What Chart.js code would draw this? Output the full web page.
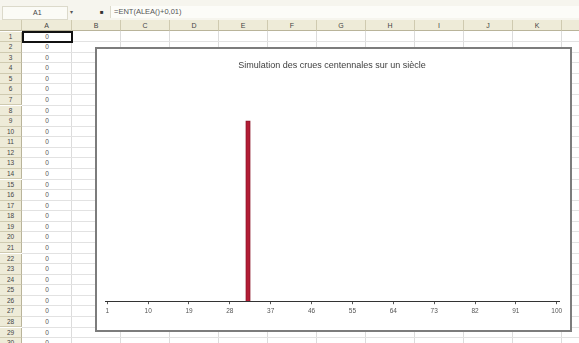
<!DOCTYPE html>
<html>
<head>
<meta charset="utf-8">
<script src="https://cdn.jsdelivr.net/npm/chart.js@4/dist/chart.umd.min.js"></script>
<style>
  html, body { margin: 0; padding: 0; background: #fff; width: 579px; height: 343px; overflow: hidden;
    font-family: "Liberation Sans", Arial, sans-serif; }
  #sheet { position: absolute; left: 0; top: 0; width: 579px; height: 343px; overflow: hidden; }
  .abs { position: absolute; }
  #toolbar { left: 0; top: 0; width: 579px; height: 20px; background: #f6f5ee; }
  #namebox { left: 2px; top: 6px; width: 64px; height: 12px; background: #fbfbf6; border: 1px solid #dcdacb;
    font-size: 7px; line-height: 12px; color: #444; }
  #namebox span { position: absolute; left: 30px; }
  #dropdown { left: 67px; top: 6px; width: 8px; height: 12px; font-size: 6px; line-height: 12px; color: #555; text-align: center; }
  #fx { left: 100px; top: 6px; width: 8px; height: 12px; font-size: 6px; line-height: 12px; color: #333; }
  #formula { left: 110px; top: 6px; width: 469px; height: 12px; background: #fcfcf8; border-left: 1px solid #dcdacb;
    font-size: 7.5px; line-height: 12px; color: #555; padding-left: 3px; box-sizing: border-box; }
  .colhead { top: 20px; height: 11px; background: #eeebd8; border-right: 1px solid #cfcab0; border-bottom: 1px solid #b9b49a;
    box-sizing: border-box; font-size: 7px; line-height: 11px; text-align: center; color: #444; }
  .rowhead { left: 0; width: 22px; background: #eeebd8; border-right: 1px solid #b9b49a; border-bottom: 1px solid #cfcab0;
    box-sizing: border-box; font-size: 6.5px; text-align: center; color: #444; }
  .vline { width: 1px; background: #dcdcdc; }
  .hline { height: 1px; background: #e2e2e2; }
  .cell { font-size: 6.5px; text-align: center; color: #555; }
  #sel { border: 2px solid #111; box-sizing: border-box; }
  #box { position: absolute; left: 95px; top: 47px; width: 473px; height: 281px; border: 2px solid #7c7c7c;
    background: #fff; }
  #wrap { position: relative; width: 473px; height: 281px; }
</style>
</head>
<body>
<div id="sheet">
  <div id="toolbar" class="abs"></div>
  <div id="namebox" class="abs"><span>A1</span></div>
  <div id="dropdown" class="abs">&#9662;</div>
  <div id="fx" class="abs">&#9632;</div>
  <div id="formula" class="abs">=ENT(ALEA()+0,01)</div>
</div>
<div id="box"><div id="wrap"><canvas id="chart"></canvas></div></div>

<script>
// Years of the simulated century
const annees = [
  1, 2, 3, 4, 5, 6, 7, 8, 9, 10, 11, 12, 13, 14, 15, 16, 17, 18, 19, 20,
  21, 22, 23, 24, 25, 26, 27, 28, 29, 30, 31, 32, 33, 34, 35, 36, 37, 38, 39, 40,
  41, 42, 43, 44, 45, 46, 47, 48, 49, 50, 51, 52, 53, 54, 55, 56, 57, 58, 59, 60,
  61, 62, 63, 64, 65, 66, 67, 68, 69, 70, 71, 72, 73, 74, 75, 76, 77, 78, 79, 80,
  81, 82, 83, 84, 85, 86, 87, 88, 89, 90, 91, 92, 93, 94, 95, 96, 97, 98, 99, 100
];

// 1 = crue centennale cette année-là, 0 = pas de crue
const crues = [
  0, 0, 0, 0, 0, 0, 0, 0, 0, 0, 0, 0, 0, 0, 0, 0, 0, 0, 0, 0,
  0, 0, 0, 0, 0, 0, 0, 0, 0, 0, 0, 1, 0, 0, 0, 0, 0, 0, 0, 0,
  0, 0, 0, 0, 0, 0, 0, 0, 0, 0, 0, 0, 0, 0, 0, 0, 0, 0, 0, 0,
  0, 0, 0, 0, 0, 0, 0, 0, 0, 0, 0, 0, 0, 0, 0, 0, 0, 0, 0, 0,
  0, 0, 0, 0, 0, 0, 0, 0, 0, 0, 0, 0, 0, 0, 0, 0, 0, 0, 0, 0
];

// Year labels shown under the axis
const etiquettesAxe = ['1', '10', '19', '28', '37', '46', '55', '64', '73', '82', '91', '100'];

const colonnes = ['A', 'B', 'C', 'D', 'E', 'F', 'G', 'H', 'I', 'J', 'K', 'L'];

// ---- worksheet background ----
(function buildSheet() {
  const sheet = document.getElementById('sheet');
  const add = (cls, css, text) => {
    const d = document.createElement('div');
    d.className = 'abs ' + cls;
    Object.assign(d.style, css);
    if (text !== undefined) d.textContent = text;
    sheet.appendChild(d);
    return d;
  };
  const colLeft = [22, 72];
  for (let i = 2; i <= colonnes.length; i++) colLeft.push(72 + (i - 1) * 49);
  const rowTop = 31.5, rowH = 10.57, nRows = 30;

  // grid lines
  for (let i = 1; i < colLeft.length; i++) {
    add('vline', { left: (colLeft[i] - 1) + 'px', top: '31px', height: '320px' });
  }
  for (let r = 1; r <= nRows; r++) {
    add('hline', { left: '22px', top: (rowTop + r * rowH - 1).toFixed(1) + 'px', width: '557px' });
  }
  // column headers
  add('colhead', { left: '0px', width: '22px' }, '');
  for (let i = 0; i < colonnes.length; i++) {
    add('colhead', { left: colLeft[i] + 'px', width: (colLeft[i + 1] - colLeft[i]) + 'px' }, colonnes[i]);
  }
  // row headers and column A values
  for (let r = 1; r <= nRows; r++) {
    const y = rowTop + (r - 1) * rowH;
    add('rowhead', { top: y.toFixed(1) + 'px', height: rowH.toFixed(2) + 'px', lineHeight: rowH.toFixed(2) + 'px' }, String(r));
    add('cell', { left: '22px', width: '50px', top: y.toFixed(1) + 'px', height: rowH.toFixed(2) + 'px',
      lineHeight: rowH.toFixed(2) + 'px' }, String(crues[r - 1]));
  }
  // active cell A1
  const sel = add('', { left: '22px', top: '30.5px', width: '51px', height: '12px' });
  sel.id = 'sel';
})();

// ---- chart ----
new Chart(document.getElementById('chart'), {
  type: 'bar',
  data: {
    labels: annees.map(String),
    datasets: [{
      data: crues,
      backgroundColor: '#b31d35',
      borderColor: '#8c1428',
      borderWidth: 1,
      barPercentage: 1,
      categoryPercentage: 1,
      maxBarThickness: 6
    }]
  },
  options: {
    responsive: true,
    maintainAspectRatio: false,
    animation: false,
    layout: { padding: { left: 8, right: 11, top: 0, bottom: 12 } },
    plugins: {
      legend: { display: false },
      tooltip: { enabled: false },
      title: {
        display: true,
        text: 'Simulation des crues centennales sur un siècle',
        color: '#404040',
        font: { family: '"Liberation Sans", Arial, sans-serif', size: 9, weight: 'normal' },
        padding: { top: 11, bottom: 14 }
      }
    },
    scales: {
      x: {
        offset: true,
        grid: {
          offset: false,
          drawOnChartArea: false,
          drawTicks: true,
          tickLength: 3,
          color: '#555'
        },
        border: { display: true, color: '#333', width: 1 },
        ticks: {
          autoSkip: false,
          maxRotation: 0,
          minRotation: 0,
          padding: 3,
          color: '#555',
          font: { family: '"Liberation Sans", Arial, sans-serif', size: 6.5 },
          callback: function (value, index) {
            const lab = this.getLabelForValue(value);
            return etiquettesAxe.includes(lab) ? lab : null;
          }
        }
      },
      y: {
        display: false,
        min: 0,
        max: 1.2
      }
    }
  }
});
</script>
</body>
</html>
